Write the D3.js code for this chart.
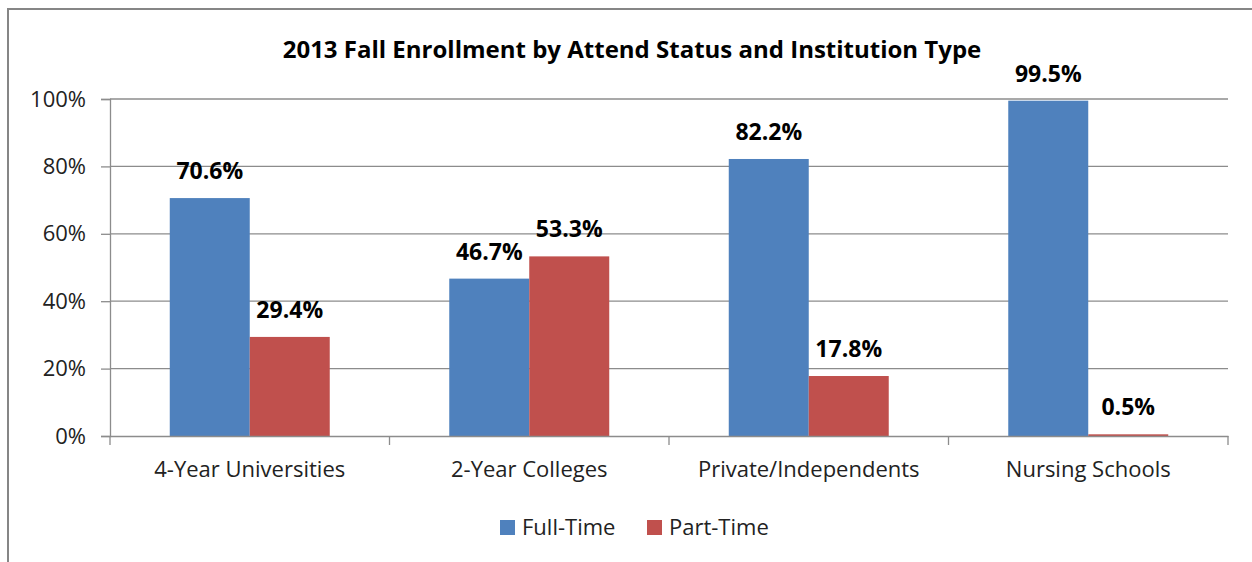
<!DOCTYPE html>
<html>
<head>
<meta charset="utf-8">
<script src="https://cdn.jsdelivr.net/npm/d3@7/dist/d3.min.js"></script>
<style>
  body { margin: 0; background: #fff; }
  svg { display: block; }
  svg text { font-family: "Open Sans", "Noto Sans", sans-serif; }
</style>
</head>
<body>
<div id="chart"></div>
<script>
const categories = ["4-Year Universities", "2-Year Colleges", "Private/Independents", "Nursing Schools"];
const seriesNames = ["Full-Time", "Part-Time"];
const fullTime = [70.6, 46.7, 82.2, 99.5];
const partTime = [29.4, 53.3, 17.8, 0.5];
const yTicks = [0, 20, 40, 60, 80, 100];
const colors = ["#4f81bd", "#c0504d"];

const W = 1252, H = 562;
const plot = {left: 110, right: 1228, top: 99, bottom: 436};

const svg = d3.select("#chart").append("svg")
  .attr("width", W)
  .attr("height", H);

// outer chart frame
svg.append("rect")
  .attr("x", 8).attr("y", 9)
  .attr("width", W + 20).attr("height", H + 20)
  .attr("fill", "#fff")
  .attr("stroke", "#868686")
  .attr("stroke-width", 2);

svg.append("text")
  .attr("x", 632).attr("y", 58)
  .attr("text-anchor", "middle")
  .style("font-size", "24px")
  .style("font-weight", "bold")
  .text("2013 Fall Enrollment by Attend Status and Institution Type");

const y = d3.scaleLinear().domain([0, 100]).range([plot.bottom, plot.top]);
const x0 = d3.scaleBand().domain(categories).range([plot.left, plot.right])
  .paddingInner(0.4276).paddingOuter(0.2138);
const x1 = d3.scaleBand().domain(seriesNames).range([0, x0.bandwidth()]);

// gridlines
svg.append("g")
  .selectAll("line")
  .data(yTicks.filter(d => d > 0))
  .join("line")
  .attr("x1", plot.left).attr("x2", plot.right)
  .attr("y1", d => y(d)).attr("y2", d => y(d))
  .attr("stroke", "#8c8c8c")
  .attr("stroke-width", 1.3);

// y axis
const yAxis = svg.append("g")
  .attr("transform", "translate(" + plot.left + ",0)")
  .call(d3.axisLeft(y).tickValues(yTicks).tickFormat(d => d + "%").tickSize(9).tickPadding(15));
yAxis.select(".domain").attr("stroke", "#8c8c8c").attr("stroke-width", 1.3);
yAxis.selectAll(".tick line").attr("stroke", "#8c8c8c").attr("stroke-width", 1.3);
yAxis.selectAll(".tick text").style("font-size", "22px").attr("fill", "#222");

// bars
const rows = categories.map((c, i) => ({cat: c, vals: [fullTime[i], partTime[i]]}));
const groups = svg.append("g").selectAll("g")
  .data(rows)
  .join("g")
  .attr("transform", d => "translate(" + x0(d.cat) + ",0)");

groups.selectAll("rect")
  .data(d => d.vals.map((v, j) => ({key: seriesNames[j], v: v, j: j})))
  .join("rect")
  .attr("x", d => x1(d.key))
  .attr("y", d => y(d.v))
  .attr("width", x1.bandwidth())
  .attr("height", d => plot.bottom - y(d.v))
  .attr("fill", d => colors[d.j]);

groups.selectAll("text")
  .data(d => d.vals.map((v, j) => ({key: seriesNames[j], v: v})))
  .join("text")
  .attr("x", d => x1(d.key) + x1.bandwidth() / 2)
  .attr("y", d => y(d.v) - 19)
  .attr("text-anchor", "middle")
  .style("font-size", "23px")
  .style("font-weight", "bold")
  .text(d => d.v.toFixed(1) + "%");

// x axis
const xAxis = svg.append("g")
  .attr("transform", "translate(0," + plot.bottom + ")")
  .call(d3.axisBottom(x0).tickSize(0).tickPadding(25));
xAxis.select(".domain").attr("stroke", "#8c8c8c").attr("stroke-width", 1.3);
xAxis.selectAll(".tick text").style("font-size", "22px").attr("fill", "#222");

// category boundary ticks
const bounds = d3.range(categories.length + 1).map(i => plot.left + i * x0.step());
svg.append("g").selectAll("line")
  .data(bounds)
  .join("line")
  .attr("x1", d => d).attr("x2", d => d)
  .attr("y1", plot.bottom).attr("y2", plot.bottom + 9)
  .attr("stroke", "#8c8c8c")
  .attr("stroke-width", 1.3);

// legend
const legendX = [500, 647];
const legend = svg.append("g").selectAll("g")
  .data(seriesNames)
  .join("g")
  .attr("transform", (d, i) => "translate(" + legendX[i] + ",520)");
legend.append("rect")
  .attr("width", 15).attr("height", 15)
  .attr("fill", (d, i) => colors[i]);
legend.append("text")
  .attr("x", 22).attr("y", 15)
  .style("font-size", "22px")
  .attr("fill", "#222")
  .text(d => d);
</script>
</body>
</html>
